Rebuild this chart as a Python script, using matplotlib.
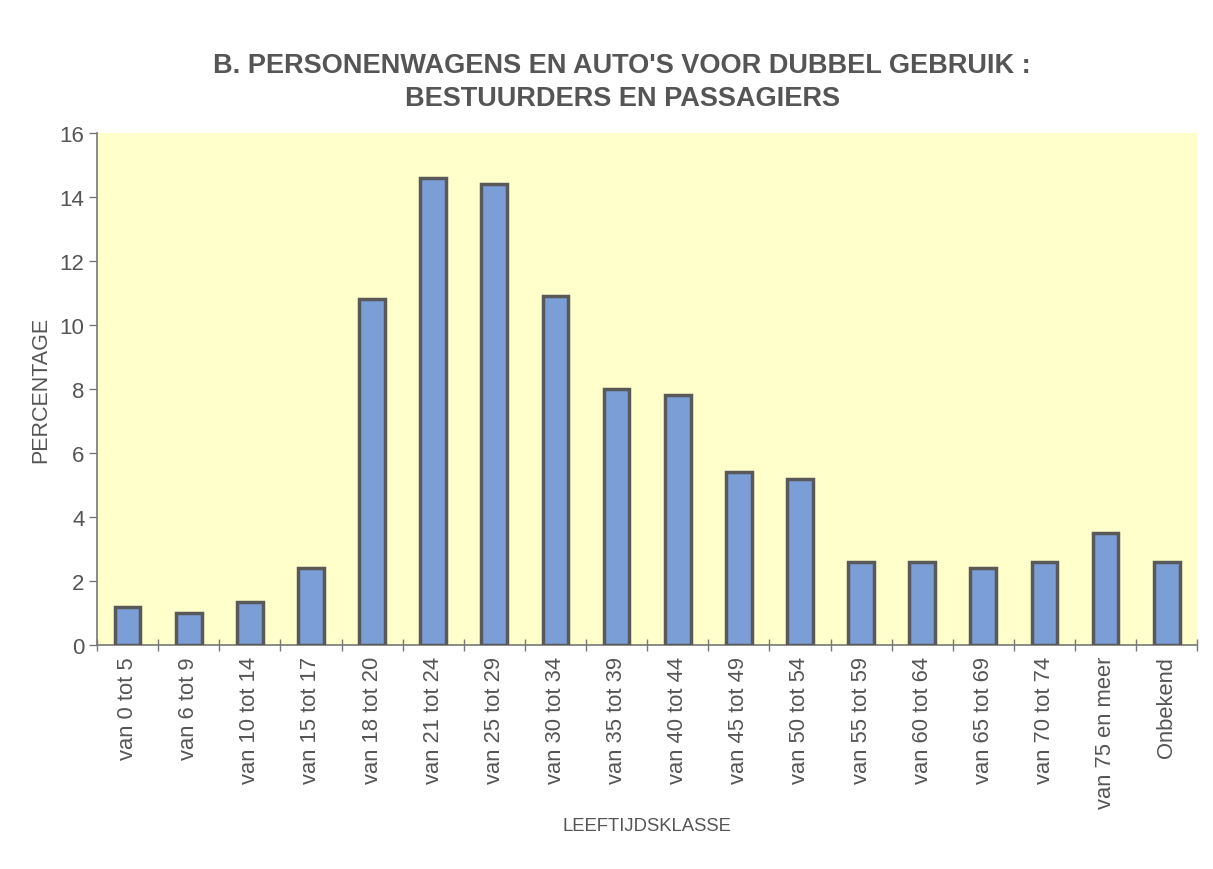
import matplotlib.pyplot as plt
import numpy as np

plt.rcParams['font.family'] = ['Liberation Sans', 'DejaVu Sans']

categories = ["van 0 tot 5", "van 6 tot 9", "van 10 tot 14", "van 15 tot 17",
              "van 18 tot 20", "van 21 tot 24", "van 25 tot 29", "van 30 tot 34",
              "van 35 tot 39", "van 40 tot 44", "van 45 tot 49", "van 50 tot 54",
              "van 55 tot 59", "van 60 tot 64", "van 65 tot 69", "van 70 tot 74",
              "van 75 en meer", "Onbekend"]
percentages = [1.2, 1.0, 1.35, 2.4, 10.8, 14.6, 14.4, 10.9, 8.0, 7.8,
               5.4, 5.2, 2.6, 2.6, 2.4, 2.6, 3.5, 2.6]
y_ticks = [0, 2, 4, 6, 8, 10, 12, 14, 16]

grey = '#555555'

fig = plt.figure(figsize=(12.13, 8.7), dpi=100)
ax = fig.add_axes([0.080, 0.2575, 0.907, 0.5885])
ax.set_facecolor('#FFFFCC')

x = np.arange(len(categories))
ax.bar(x, percentages, width=0.42, color='#7B9ED6', edgecolor='#595959',
       linewidth=2.5, zorder=3)

ax.set_xlim(-0.5, len(categories) - 0.5)
ax.set_ylim(0, 16)
ax.set_yticks(y_ticks)
ax.set_xticks(x)
ax.set_xticklabels(categories, rotation=90, fontsize=15.8, color=grey)
ax.set_xticks(np.arange(len(categories) + 1) - 0.5, minor=True)
ax.tick_params(axis='x', which='major', length=0, pad=8)
ax.tick_params(axis='x', which='minor', length=9, width=1, color='#777777',
               direction='inout')
ax.tick_params(axis='y', length=6, width=1, color='#777777', labelsize=16,
               labelcolor=grey, pad=3)

for s in ['top', 'right']:
    ax.spines[s].set_visible(False)
for s in ['left', 'bottom']:
    ax.spines[s].set_color('#777777')
    ax.spines[s].set_linewidth(1.2)

ax.set_ylabel('PERCENTAGE', fontsize=15.5, color=grey, labelpad=6)
ax.set_xlabel('LEEFTIJDSKLASSE', fontsize=13.3, color=grey, labelpad=6)

fig.text(0.513, 0.905, "B. PERSONENWAGENS EN AUTO'S VOOR DUBBEL GEBRUIK :\nBESTUURDERS EN PASSAGIERS",
         ha='center', va='center', fontsize=19.5, fontweight='bold', color=grey,
         linespacing=1.35)

fig.savefig('out.png', dpi=100)
